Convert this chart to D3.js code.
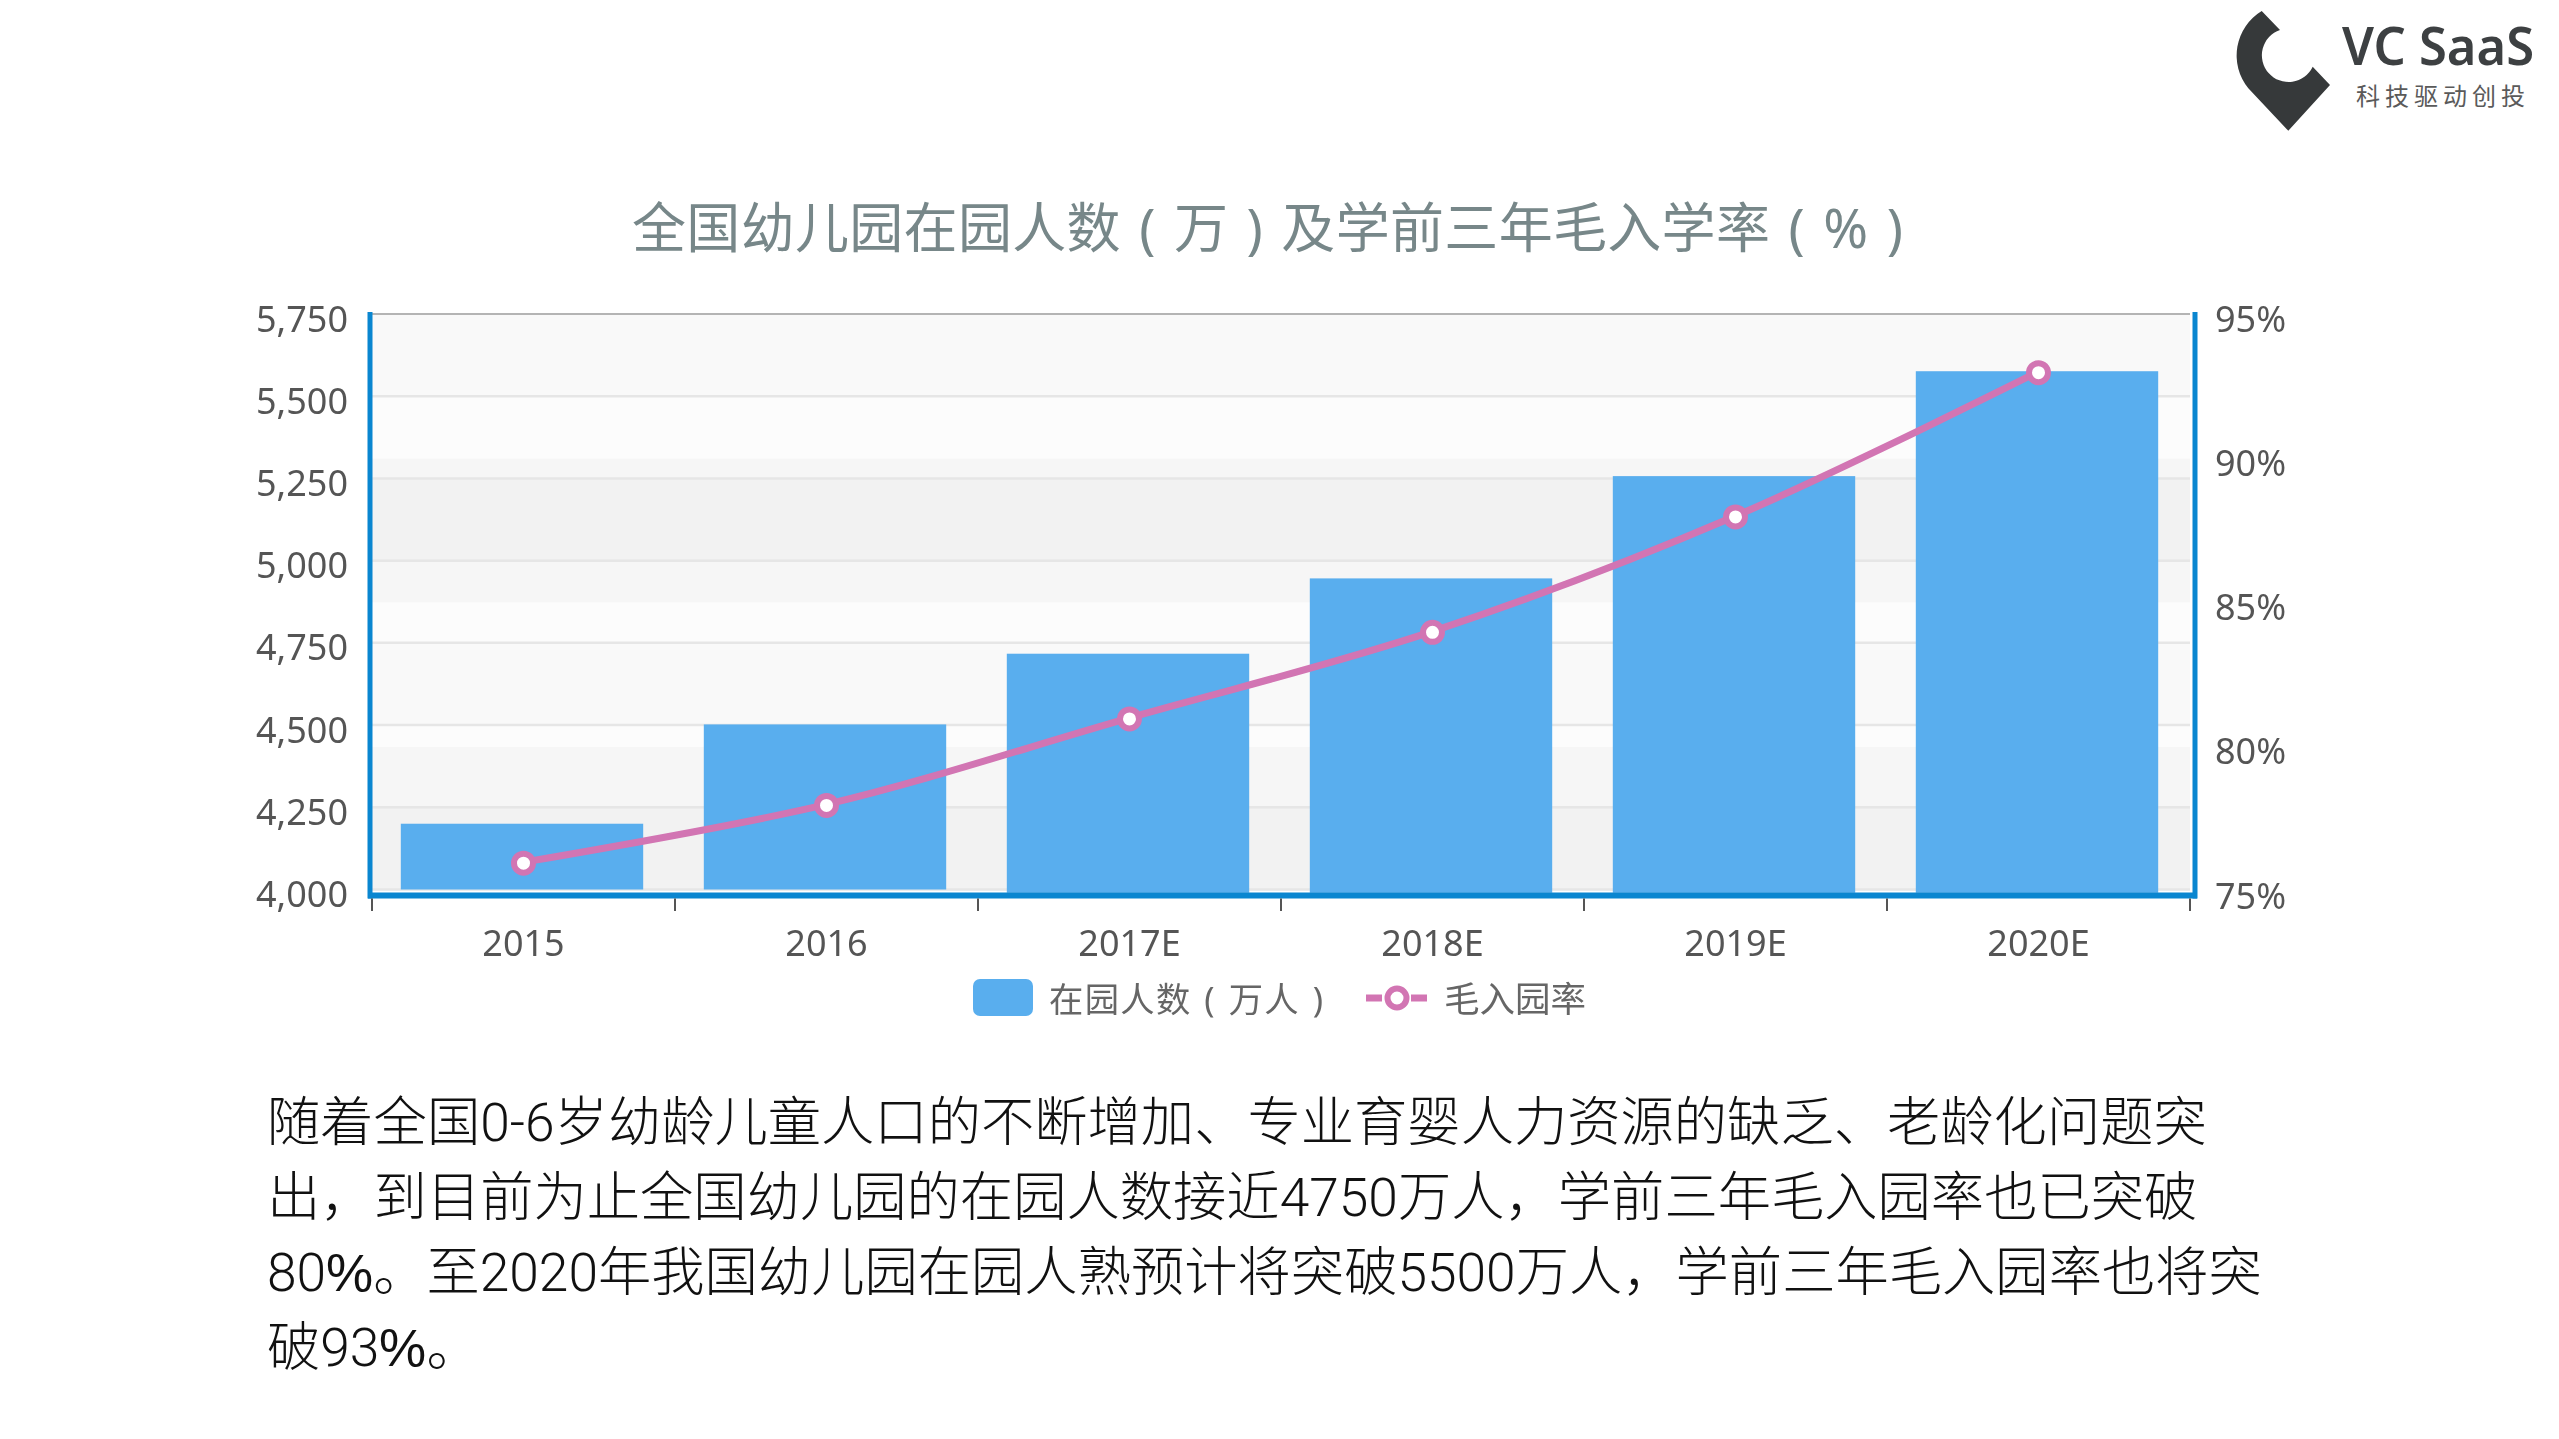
<!DOCTYPE html>
<html>
<head>
<meta charset="utf-8">
<script src="https://cdn.jsdelivr.net/npm/d3@7"></script>
<style>
  /* Helvetica-width percent sign for the paragraph */
  @font-face { font-family: "Pct"; src: local("Liberation Sans"); unicode-range: U+25; font-weight: 300; }
  html, body { margin: 0; background: #fff; }
  svg { display: block; }
  text { font-family: "Noto Sans", "Noto Sans CJK SC", sans-serif; }
  .cjk { font-family: "Noto Sans CJK SC", sans-serif; }
  .para { font-family: "Pct", "Roboto", "Noto Sans CJK SC", sans-serif; font-weight: 300; }
</style>
</head>
<body>
<svg width="2559" height="1439"></svg>
<script>
const years = ["2015", "2016", "2017E", "2018E", "2019E", "2020E"];
const pupils = [4200, 4502, 4717, 4946, 5257, 5576];
// bars 3-6 run down into the axis line in the original, first two stop at 4000
const barFloor = [4000, 4000, 3990, 3990, 3990, 3990];
const enrolRate = [76, 78, 81, 84, 88, 93];
const leftTicks = [4000, 4250, 4500, 4750, 5000, 5250, 5500, 5750];
const rightTicks = [75, 80, 85, 90, 95];
// U+2004 around the brackets: the original has wide, airy brackets
const chartTitle = "全国幼儿园在园人数\u2004(\u2004万\u2004)\u2004及学前三年毛入学率\u2004(\u2004%\u2004)";
const legendBar = "在园人数\u2004(\u2004万人\u2004)";
const legendLine = "毛入园率";
const paragraph = [
  "随着全国0-6岁幼龄儿童人口的不断增加、专业育婴人力资源的缺乏、老龄化问题突",
  "出，到目前为止全国幼儿园的在园人数接近4750万人，学前三年毛入园率也已突破",
  "80%。至2020年我国幼儿园在园人熟预计将突破5500万人，学前三年毛入园率也将突",
  "破93%。"
];

const svg = d3.select("svg");
const plotL = 372, plotR = 2190, plotT = 314, plotB = 889.5, axisY = 895.5;
const chart = svg.append("g").style("filter", "blur(0.6px)");

const x = d3.scaleBand().domain(years).range([plotL, plotR]).paddingInner(0.2).paddingOuter(0.1);
const yL = d3.scaleLinear().domain([4000, 5750]).range([plotB, plotT]);
const yR = d3.scaleLinear().domain([75, 95]).range([891, plotT]);

// split areas of both y axes, laid over each other
const bandFill = i => i % 2 ? ["#fafafa", 0.4] : ["#c8c8c8", 0.12];
chart.append("g").selectAll("rect")
  .data(d3.pairs(leftTicks))
  .join("rect")
  .attr("x", plotL).attr("width", plotR - plotL)
  .attr("y", d => yL(d[1]))
  .attr("height", d => yL(d[0]) - yL(d[1]))
  .attr("fill", (d, i) => bandFill(i)[0])
  .attr("fill-opacity", (d, i) => bandFill(i)[1]);
chart.append("g").selectAll("rect")
  .data(d3.pairs(rightTicks))
  .join("rect")
  .attr("x", plotL).attr("width", plotR - plotL)
  .attr("y", d => yR(d[1]))
  .attr("height", d => yR(d[0]) - yR(d[1]))
  .attr("fill", (d, i) => bandFill(i)[0])
  .attr("fill-opacity", (d, i) => bandFill(i)[1]);

// grid lines
chart.append("g").selectAll("line")
  .data(leftTicks.slice(0, -1))
  .join("line")
  .attr("x1", plotL).attr("x2", plotR)
  .attr("y1", d => yL(d)).attr("y2", d => yL(d))
  .attr("stroke", "#e6e6e6").attr("stroke-width", 2.5);
chart.append("line")
  .attr("x1", plotL).attr("x2", plotR)
  .attr("y1", plotT).attr("y2", plotT)
  .attr("stroke", "#b4b4b4").attr("stroke-width", 2);

// bars
chart.append("g").selectAll("rect")
  .data(years)
  .join("rect")
  .attr("x", d => x(d) - 1.5)
  .attr("width", x.bandwidth())
  .attr("y", (d, i) => yL(pupils[i]))
  .attr("height", (d, i) => yL(barFloor[i]) - yL(pupils[i]))
  .attr("fill", "#59aeee");

// axis lines
chart.append("line")
  .attr("x1", 370).attr("x2", 370).attr("y1", plotT - 2).attr("y2", axisY + 3)
  .attr("stroke", "#0a86d0").attr("stroke-width", 5);
chart.append("line")
  .attr("x1", 2195).attr("x2", 2195).attr("y1", plotT - 2).attr("y2", axisY + 3)
  .attr("stroke", "#0a86d0").attr("stroke-width", 5);
chart.append("line")
  .attr("x1", 368).attr("x2", 2197).attr("y1", axisY).attr("y2", axisY)
  .attr("stroke", "#0a86d0").attr("stroke-width", 6);

// category ticks sit between the bands
const tickPos = years.map(d => x(d) - x.step() * 0.1).concat(plotR);
chart.append("g").selectAll("line")
  .data(tickPos)
  .join("line")
  .attr("x1", d => d).attr("x2", d => d)
  .attr("y1", axisY + 3).attr("y2", 911)
  .attr("stroke", "#555").attr("stroke-width", 2);

// axis labels
const labelStyle = g => {
  g.select(".domain").remove();
  g.selectAll("line").remove();
  g.selectAll("text").attr("font-size", 36).attr("fill", "#555");
};
chart.append("g")
  .attr("transform", "translate(353,5.5)")
  .call(d3.axisLeft(yL).tickValues(leftTicks).tickFormat(d3.format(",")).tickSize(0).tickPadding(5))
  .call(labelStyle);
chart.append("g")
  .attr("transform", "translate(2210,5.5)")
  .call(d3.axisRight(yR).tickValues(rightTicks).tickFormat(d => d + "%").tickSize(0).tickPadding(5))
  .call(labelStyle);
chart.append("g")
  .attr("transform", "translate(0,920)")
  .call(d3.axisBottom(x).tickSize(0).tickPadding(10))
  .call(labelStyle);

// rate line
const line = d3.line()
  .x((d, i) => x(years[i]) + x.bandwidth() / 2)
  .y(d => yR(d))
  .curve(d3.curveCatmullRom.alpha(0.5));
chart.append("path")
  .attr("d", line(enrolRate))
  .attr("fill", "none")
  .attr("stroke", "#d275b3")
  .attr("stroke-width", 7);
chart.append("g").selectAll("circle")
  .data(enrolRate)
  .join("circle")
  .attr("cx", (d, i) => x(years[i]) + x.bandwidth() / 2)
  .attr("cy", d => yR(d) + 1)
  .attr("r", 9.5)
  .attr("fill", "#fff")
  .attr("stroke", "#d275b3")
  .attr("stroke-width", 6);

// title
chart.append("text")
  .attr("x", 632).attr("y", 248)
  .attr("font-size", 54)
  .attr("fill", "#778789")
  .attr("textLength", 1271).attr("lengthAdjust", "spacing")
  .text(chartTitle);

// legend
chart.append("rect")
  .attr("x", 973).attr("y", 979).attr("width", 60).attr("height", 37).attr("rx", 7)
  .attr("fill", "#59aeee");
chart.append("text")
  .attr("x", 1049).attr("y", 1012)
  .attr("font-size", 34.3).attr("fill", "#666")
  .attr("textLength", 274).attr("lengthAdjust", "spacing")
  .text(legendBar);
chart.append("g").selectAll("line")
  .data([[1366, 1382], [1411, 1427]])
  .join("line")
  .attr("x1", d => d[0]).attr("x2", d => d[1])
  .attr("y1", 998).attr("y2", 998)
  .attr("stroke", "#d275b3").attr("stroke-width", 7);
chart.append("circle")
  .attr("cx", 1397).attr("cy", 998).attr("r", 9.5)
  .attr("fill", "#fff").attr("stroke", "#d275b3").attr("stroke-width", 6);
chart.append("text")
  .attr("class", "cjk")
  .attr("x", 1444).attr("y", 1012)
  .attr("font-size", 35.5).attr("fill", "#666")
  .text(legendLine);

// paragraph under the chart
svg.append("g").selectAll("text")
  .data(paragraph)
  .join("text")
  .attr("class", "para")
  .attr("x", 267)
  .attr("y", (d, i) => 1141 + i * 75)
  .attr("font-size", 53.3)
  .attr("fill", "#111")
  .text(d => d);

// logo
const logo = svg.append("g").attr("transform", "translate(2150,0)");
logo.append("path")
  .attr("d", "M111.7,11 L130,30 A26.7,26.7 0 1 0 162.7,66.7 L180,85 L138.3,130.7 L98.3,88.3 A52,52 0 0 1 111.7,11 Z")
  .attr("fill", "#36393a");
logo.append("text")
  .attr("x", 192).attr("y", 65)
  .attr("font-family", "Open Sans").attr("font-weight", 600)
  .attr("font-size", 52).attr("fill", "#3d4042")
  .attr("textLength", 192).attr("lengthAdjust", "spacingAndGlyphs")
  .text("VC SaaS");
logo.append("text")
  .attr("class", "cjk")
  .attr("x", 206).attr("y", 105)
  .attr("font-size", 24).attr("letter-spacing", 5)
  .attr("fill", "#5a5a5a")
  .text("科技驱动创投");
</script>
</body>
</html>
